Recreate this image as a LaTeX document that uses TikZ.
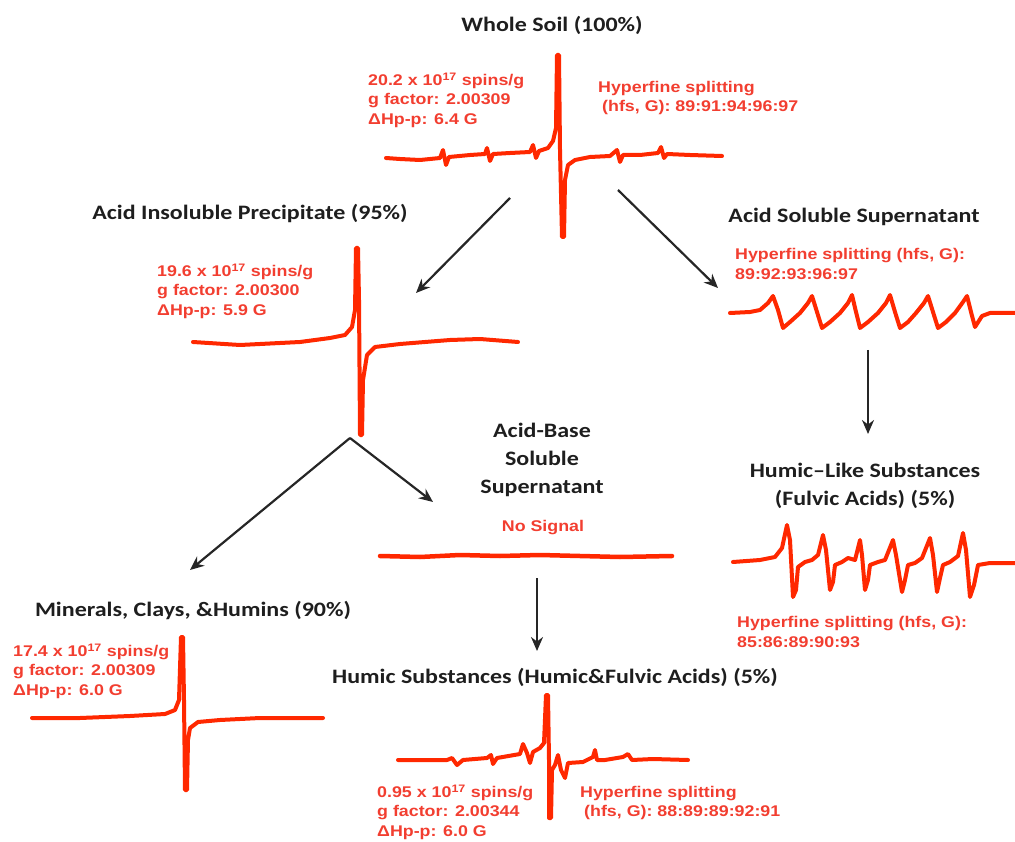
\documentclass[tikz,border=0pt]{standalone}
\usepackage{fontspec}
\usetikzlibrary{arrows.meta}
\newfontfamily\blackfont[FakeStretch=1.17]{Carlito}
\newfontfamily\redfont[FakeStretch=1.15]{Liberation Sans}
\definecolor{sig}{RGB}{255,40,0}
\definecolor{lab}{RGB}{242,62,48}
\definecolor{ttl}{RGB}{30,30,30}
\tikzset{
  title/.style={font=\blackfont\bfseries\fontsize{20.5}{28}\selectfont, text=ttl, align=center, inner sep=0pt},
  info/.style={font=\redfont\bfseries\fontsize{15.5}{19.5}\selectfont, text=lab, align=left, inner sep=0pt, anchor=west},
  spec/.style={draw=sig, line width=4pt, line join=round, line cap=round},
  flow/.style={draw=black!85, line width=2.2pt, -{Stealth[length=14pt,width=12pt]}}
}
\begin{document}
\begin{tikzpicture}[x=1pt,y=-1pt]
\useasboundingbox (0,0) rectangle (1015,842);

% ---------- titles ----------
\node[title] (tWhole) at (552,25) {Whole Soil (100\%)};
\node[title] (tAIP) at (250,214) {Acid Insoluble Precipitate (95\%)};
\node[title] (tASS) at (854,217) {Acid Soluble Supernatant};
\node[title] (tABS) at (542,460) {Acid-Base\\Soluble\\Supernatant};
\node[title] (tHLS) at (865,486) {Humic–Like Substances\\(Fulvic Acids) (5\%)};
\node[title] (tMin) at (193,611) {Minerals, Clays, \&Humins (90\%)};
\node[title] (tHS) at (555,677) {Humic Substances (Humic\&Fulvic Acids) (5\%)};

% ---------- info texts ----------
\node[info] (iWhole) at (368,100) {20.2 x 10\textsuperscript{17} spins/g\\g factor: 2.00309\\ΔHp-p: 6.4 G};
\node[info] (hWhole) at (598,98) {Hyperfine splitting\\\hspace{4pt}(hfs, G): 89:91:94:96:97};
\node[info] (iAIP) at (157,291) {19.6 x 10\textsuperscript{17} spins/g\\g factor: 2.00300\\ΔHp-p: 5.9 G};
\node[info] (hASS) at (735,264) {Hyperfine splitting (hfs, G):\\89:92:93:96:97};
\node[info, anchor=center] (nosig) at (543,528) {No Signal};
\node[info] (hHLS) at (737,632) {Hyperfine splitting (hfs, G):\\85:86:89:90:93};
\node[info] (iMin) at (13,671) {17.4 x 10\textsuperscript{17} spins/g\\g factor: 2.00309\\ΔHp-p: 6.0 G};
\node[info] (iHS) at (377,812) {0.95 x 10\textsuperscript{17} spins/g\\g factor: 2.00344\\ΔHp-p: 6.0 G};
\node[info] (hHS) at (580,803) {Hyperfine splitting\\\hspace{4pt}(hfs, G): 88:89:89:92:91};

% ---------- spectra ----------
% whole soil
\draw[spec] (386,158) -- (400,159) -- (420,160) -- (440,158) -- (443,150) -- (446,165) -- (449,157)
  -- (470,155) -- (485,154) -- (487,148) -- (490,161) -- (493,154) -- (510,153) -- (530,152)
  -- (533,145) -- (536,158) -- (539,151) -- (548,148) -- (553,141) -- (556,128) -- (557,55)
  -- (559,55) -- (560,150) -- (562,237) -- (564,237) -- (565,180) -- (568,165) -- (575,160)
  -- (590,157) -- (610,156) -- (617,150) -- (620,162) -- (623,155) -- (640,155) -- (658,153)
  -- (661,147) -- (664,158) -- (667,154) -- (690,155) -- (722,156);
% acid insoluble precipitate
\draw[spec] (193,342) -- (240,345) -- (300,342) -- (330,338) -- (345,335) -- (352,327) -- (355,310)
  -- (356,248) -- (358,248) -- (359,300) -- (360,435) -- (362,435) -- (363,380) -- (367,355)
  -- (375,347) -- (400,344) -- (450,340) -- (480,339) -- (518,342);
% acid soluble supernatant
\draw[spec] (730,313) -- (750,312) -- (760,310) -- (768,303) -- (773,296) -- (778,310) -- (783,328)
  -- (790,322) -- (800,313) -- (808,303) -- (812,296) -- (817,312) -- (822,328) -- (830,322)
  -- (840,313) -- (848,303) -- (852,295) -- (856,312) -- (860,328) -- (868,322) -- (878,313)
  -- (886,303) -- (890,295) -- (895,312) -- (900,328) -- (908,322) -- (916,313) -- (924,303)
  -- (928,296) -- (933,312) -- (938,328) -- (946,322) -- (955,313) -- (963,302) -- (967,296)
  -- (971,312) -- (975,327) -- (982,316) -- (990,313) -- (1015,313);
% no signal
\draw[spec, line width=4.5pt] (380,556) -- (420,557) -- (460,555) -- (500,556) -- (540,555)
  -- (580,556) -- (620,557) -- (672,556);
% fulvic acids
\draw[spec] (733,562) -- (760,560) -- (775,557) -- (782,548) -- (787,525) -- (790,540) -- (793,597)
  -- (796,590) -- (798,567) -- (805,562) -- (812,560) -- (818,555) -- (823,535) -- (826,550)
  -- (830,590) -- (833,582) -- (835,565) -- (842,562) -- (848,558) -- (855,560) -- (860,540)
  -- (862,555) -- (865,590) -- (868,580) -- (870,565) -- (878,562) -- (885,560) -- (893,540)
  -- (896,555) -- (902,592) -- (905,580) -- (908,565) -- (915,563) -- (922,558) -- (930,538)
  -- (933,555) -- (937,592) -- (940,578) -- (943,565) -- (950,562) -- (958,556) -- (963,533)
  -- (966,550) -- (970,597) -- (974,585) -- (978,565) -- (990,563) -- (1015,563);
% minerals
\draw[spec] (32,718) -- (80,718) -- (130,716) -- (165,714) -- (175,710) -- (179,700) -- (181,637)
  -- (183,637) -- (184,700) -- (185,790) -- (187,790) -- (188,740) -- (190,728) -- (198,722)
  -- (220,720) -- (260,718) -- (323,718);
% humic substances
\draw[spec] (398,760) -- (447,760) -- (452,758) -- (457,765) -- (463,760) -- (487,758) -- (491,755)
  -- (493,764) -- (497,758) -- (520,754) -- (523,744) -- (527,753) -- (530,763) -- (533,752)
  -- (540,748) -- (544,743) -- (546,695) -- (548,695) -- (549,760) -- (549,818) -- (551,818)
  -- (552,770) -- (555,765) -- (558,755) -- (561,770) -- (565,778) -- (568,763) -- (583,762)
  -- (593,757) -- (595,750) -- (597,760) -- (605,760) -- (623,757) -- (628,754) -- (632,760)
  -- (653,759) -- (688,760);

% ---------- connectors ----------
\coordinate (w1) at (510,198);
\coordinate (w2) at (618,190);
\coordinate (aipE) at (416,293);
\coordinate (assE) at (718,288);
\coordinate (p0) at (350,438);
\coordinate (minE) at (190,570);
\coordinate (absE) at (433,502);
\coordinate (ns0) at (537,578);
\coordinate (hsE) at (537,651);
\coordinate (as0) at (868,350);
\coordinate (hlsE) at (868,434);
\draw[flow] (w1) -- (aipE);
\draw[flow] (w2) -- (assE);
\draw[flow] (p0) -- (minE);
\draw[flow] (p0) -- (absE);
\draw[flow] (ns0) -- (hsE);
\draw[flow] (as0) -- (hlsE);
\end{tikzpicture}
\end{document}
